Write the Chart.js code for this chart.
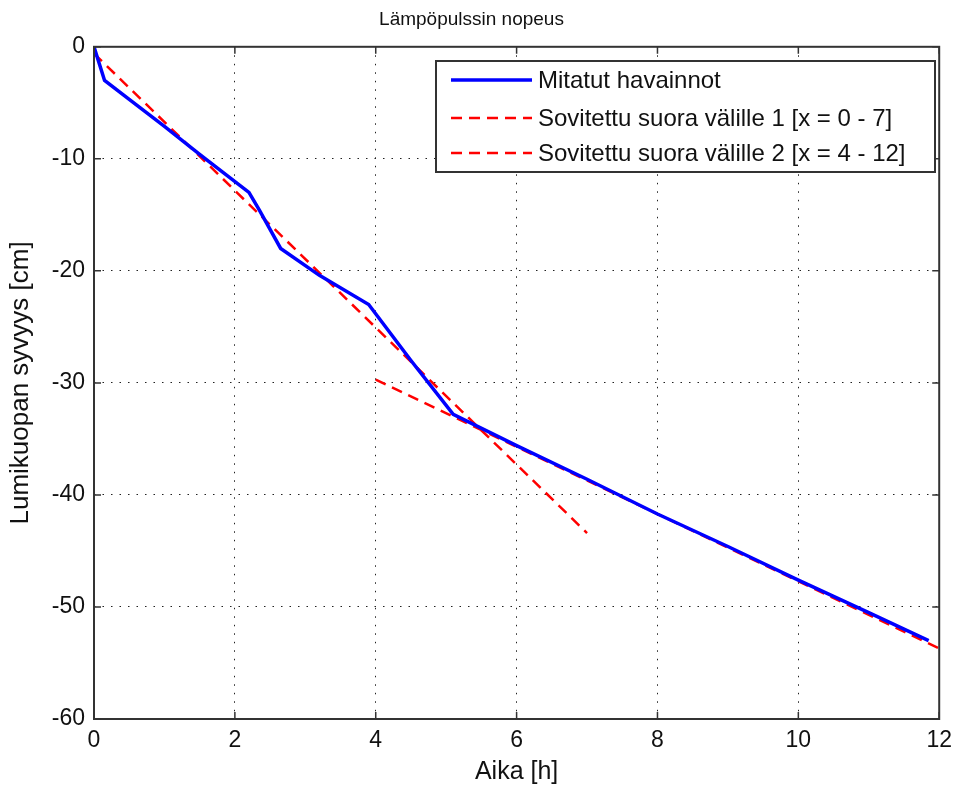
<!DOCTYPE html>
<html lang="fi">
<head>
    <meta charset="UTF-8">
    <title>Lämpöpulssin nopeus</title>
    <style>
        html, body { margin: 0; padding: 0; background: #fff; }
        #wrap { width: 960px; height: 790px; }
    </style>
</head>
<body>
    <div id="wrap"><canvas id="chart" width="960" height="790"></canvas></div>

    <script src="https://cdn.jsdelivr.net/npm/chart.js@4/dist/chart.umd.min.js"></script>
    <script>
        // measured points
        const hours = [0, 0.15, 0.5, 1, 1.5, 2.2, 2.35, 2.65, 3.2, 3.9, 4.5, 5.1, 6, 7, 8, 9, 10, 11, 11.85];
        const depth = [0, -3, -4.7, -7.1, -9.6, -13, -14.6, -18, -20.4, -23, -28, -32.8, -35.6, -38.6, -41.7, -44.6, -47.6, -50.5, -53];

        // fitted lines (end points)
        const fit1X = [0, 7];
        const fit1Y = [-0.6, -43.4];
        const fit2X = [4, 12];
        const fit2Y = [-29.7, -53.7];

        const xTicks = [0, 2, 4, 6, 8, 10, 12];
        const yTicks = [0, -10, -20, -30, -40, -50, -60];

        const labels = ['Mitatut havainnot', 'Sovitettu suora välille 1 [x = 0 - 7]', 'Sovitettu suora välille 2 [x = 4 - 12]'];

        const FONT = "'Liberation Sans', Arial, sans-serif";

        const toPts = (xs, ys) => xs.map((x, i) => ({ x: x, y: ys[i] }));

        // box around the axes with inward ticks (matlab style)
        const framePlugin = {
            id: 'frame',
            afterDraw(chart) {
                const { ctx, chartArea: a, scales } = chart;
                ctx.save();
                ctx.strokeStyle = '#333';
                ctx.lineWidth = 2;
                ctx.setLineDash([]);
                ctx.strokeRect(a.left, a.top, a.right - a.left, a.bottom - a.top);
                ctx.beginPath();
                ctx.lineWidth = 1.5;
                xTicks.forEach(t => {
                    const px = scales.x.getPixelForValue(t);
                    ctx.moveTo(px, a.bottom); ctx.lineTo(px, a.bottom - 7);
                    ctx.moveTo(px, a.top); ctx.lineTo(px, a.top + 7);
                });
                yTicks.forEach(t => {
                    const py = scales.y.getPixelForValue(t);
                    ctx.moveTo(a.left, py); ctx.lineTo(a.left + 7, py);
                    ctx.moveTo(a.right, py); ctx.lineTo(a.right - 7, py);
                });
                ctx.stroke();
                ctx.restore();
            }
        };

        // legend box in the top right corner of the plot
        const legendPlugin = {
            id: 'boxLegend',
            afterDraw(chart) {
                const { ctx } = chart;
                const x0 = 436, y0 = 61, w = 499, h = 111;
                ctx.save();
                ctx.fillStyle = '#fff';
                ctx.fillRect(x0, y0, w, h);
                ctx.strokeStyle = '#333';
                ctx.lineWidth = 2;
                ctx.strokeRect(x0, y0, w, h);
                const rows = [80, 118, 153];
                chart.data.datasets.forEach((ds, i) => {
                    ctx.beginPath();
                    ctx.strokeStyle = ds.borderColor;
                    ctx.lineWidth = ds.borderWidth;
                    ctx.setLineDash(ds.borderDash || []);
                    ctx.moveTo(451, rows[i]);
                    ctx.lineTo(532, rows[i]);
                    ctx.stroke();
                    ctx.setLineDash([]);
                    ctx.fillStyle = '#111';
                    ctx.font = '24px ' + FONT;
                    ctx.textBaseline = 'middle';
                    ctx.fillText(labels[i], 538, rows[i] + 1);
                });
                ctx.restore();
            }
        };

        new Chart(document.getElementById('chart'), {
            type: 'line',
            data: {
                datasets: [{
                    label: labels[0],
                    data: toPts(hours, depth),
                    borderColor: '#0000ff',
                    borderWidth: 3.5,
                    pointRadius: 0,
                    tension: 0
                }, {
                    label: labels[1],
                    data: toPts(fit1X, fit1Y),
                    borderColor: '#ff0000',
                    borderWidth: 2.5,
                    borderDash: [11, 7],
                    pointRadius: 0
                }, {
                    label: labels[2],
                    data: toPts(fit2X, fit2Y),
                    borderColor: '#ff0000',
                    borderWidth: 2.5,
                    borderDash: [11, 7],
                    pointRadius: 0
                }]
            },
            options: {
                responsive: false,
                animation: false,
                layout: { padding: { left: 0, right: 17, top: 0, bottom: 0 } },
                plugins: {
                    legend: { display: false },
                    tooltip: { enabled: false },
                    title: {
                        display: true,
                        text: 'Lämpöpulssin nopeus',
                        color: '#111',
                        font: { family: FONT, size: 19, weight: 'normal' },
                        padding: { top: 8, bottom: 16 }
                    }
                },
                scales: {
                    x: {
                        type: 'linear',
                        min: 0, max: 12,
                        afterBuildTicks: s => { s.ticks = xTicks.map(v => ({ value: v })); },
                        afterFit: s => { s.height = 71; },
                        ticks: {
                            color: '#111',
                            padding: 8,
                            maxRotation: 0,
                            font: { family: FONT, size: 23 }
                        },
                        grid: { color: '#222', lineWidth: 1, drawTicks: false },
                        border: { display: false, dash: [1.5, 7] },
                        title: {
                            display: true,
                            text: 'Aika [h]',
                            color: '#111',
                            font: { family: FONT, size: 25 },
                            padding: { top: 0, bottom: 3 }
                        }
                    },
                    y: {
                        type: 'linear',
                        min: -60, max: 0,
                        afterBuildTicks: s => { s.ticks = yTicks.map(v => ({ value: v })); },
                        afterFit: s => { s.width = 94; },
                        ticks: {
                            color: '#111',
                            padding: 9,
                            font: { family: FONT, size: 23 }
                        },
                        grid: { color: '#222', lineWidth: 1, drawTicks: false },
                        border: { display: false, dash: [1.5, 7] },
                        title: {
                            display: true,
                            text: 'Lumikuopan syvyys [cm]',
                            color: '#111',
                            font: { family: FONT, size: 26 },
                            padding: { top: 5, bottom: 0 }
                        }
                    }
                }
            },
            plugins: [framePlugin, legendPlugin]
        });
    </script>
</body>
</html>
